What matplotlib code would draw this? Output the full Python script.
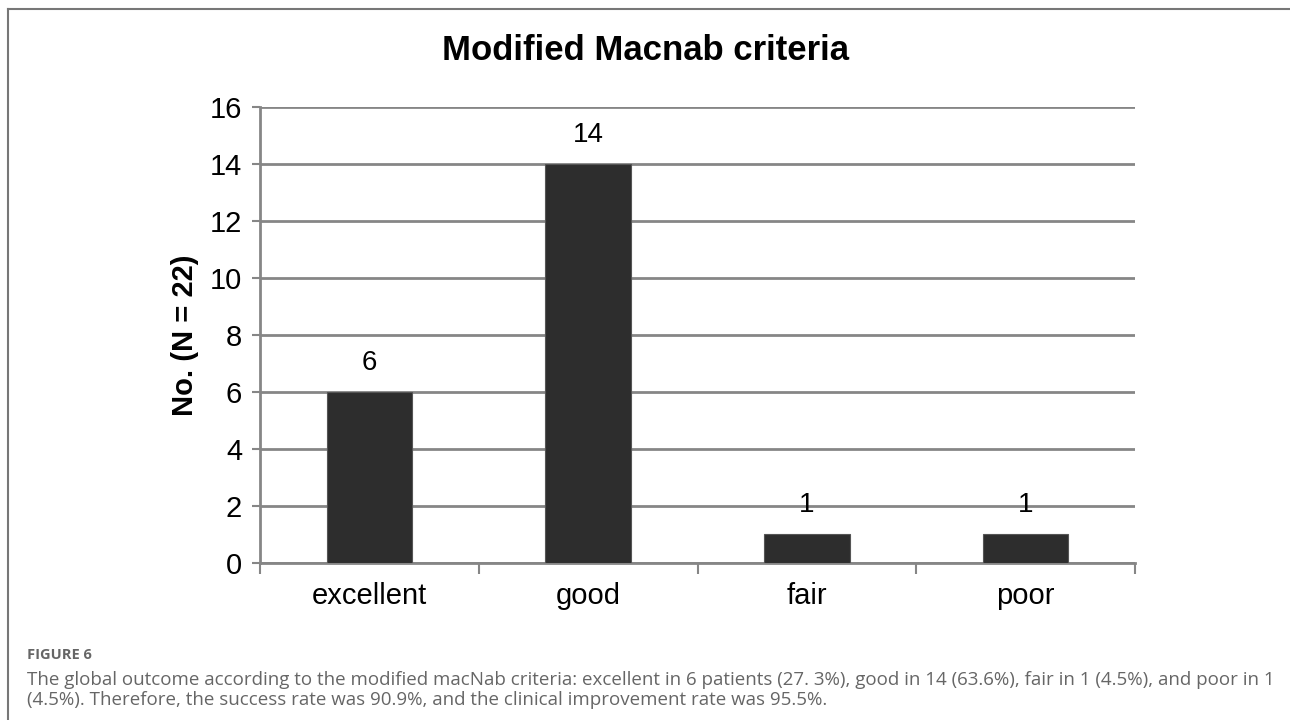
import numpy as np
import matplotlib.pyplot as plt
from matplotlib.lines import Line2D

categories = ["excellent", "good", "fair", "poor"]
counts = [6, 14, 1, 1]
yticks = [0, 2, 4, 6, 8, 10, 12, 14, 16]

title = "Modified Macnab criteria"
ylabel = "No. (N = 22)"
fig_label = "FIGURE 6"
caption = ("The global outcome according to the modified macNab criteria: excellent in 6 patients (27. 3%), "
           "good in 14 (63.6%), fair in 1 (4.5%), and poor in 1\n"
           "(4.5%). Therefore, the success rate was 90.9%, and the clinical improvement rate was 95.5%.")

grey = "#868686"
fig = plt.figure(figsize=(12.9, 7.2), dpi=100)
ax = fig.add_axes([0.2016, 0.2181, 0.6782, 0.6333])

x = np.arange(len(categories))
bars = ax.bar(x, counts, width=0.39, color="#2d2d2d", edgecolor="#555555", linewidth=0.8, zorder=3)
for xi, c in zip(x, counts):
    ax.annotate(str(c), (xi, c), xytext=(0, 21), textcoords="offset points",
                ha="center", va="center", fontsize=20, family="Liberation Sans", zorder=4)

ax.set_xlim(-0.5, len(categories) - 0.5)
ax.set_ylim(0, 16)
ax.set_yticks(yticks)
ax.yaxis.grid(True, color=grey, linewidth=2, zorder=1)
ax.set_axisbelow(True)

# category ticks between bars
ax.set_xticks(np.arange(len(categories) + 1) - 0.5)
ax.set_xticklabels([])
ax.set_xticks(x, minor=True)
ax.set_xticklabels(categories, minor=True, fontsize=21, family="Liberation Sans")
ax.tick_params(axis="x", which="minor", length=0, pad=14)
ax.tick_params(axis="x", which="major", length=8, width=1.5, color=grey, direction="out")
ax.tick_params(axis="y", length=6, width=1.5, color=grey, labelsize=21, pad=7)
for lbl in ax.get_yticklabels():
    lbl.set_family("Liberation Sans")

for s in ["top", "right"]:
    ax.spines[s].set_visible(False)
for s in ["left", "bottom"]:
    ax.spines[s].set_color(grey)
    ax.spines[s].set_linewidth(2)

ax.set_ylabel(ylabel, fontsize=21, fontweight="bold", family="Liberation Sans", labelpad=8)
fig.text(0.5, 1 - 50 / 720, title, ha="center", va="center", fontsize=25, fontweight="bold",
         family="Liberation Sans")

# page frame (top and left edge)
fig.add_artist(Line2D([0.006, 1.0], [0.9875, 0.9875], color="#777777", linewidth=1.5))
fig.add_artist(Line2D([0.006, 0.006], [0.0, 0.9875], color="#777777", linewidth=1.5))

fig.text(0.021, 1 - 655 / 720, fig_label, ha="left", va="center", fontsize=10.5,
         fontweight="bold", color="#666666", family="Open Sans")
fig.text(0.021, 1 - 690 / 720, caption, ha="left", va="center", fontsize=13.5,
         color="#666666", family="Open Sans", linespacing=1.12)

fig.savefig("out.png", dpi=100, facecolor="white")
